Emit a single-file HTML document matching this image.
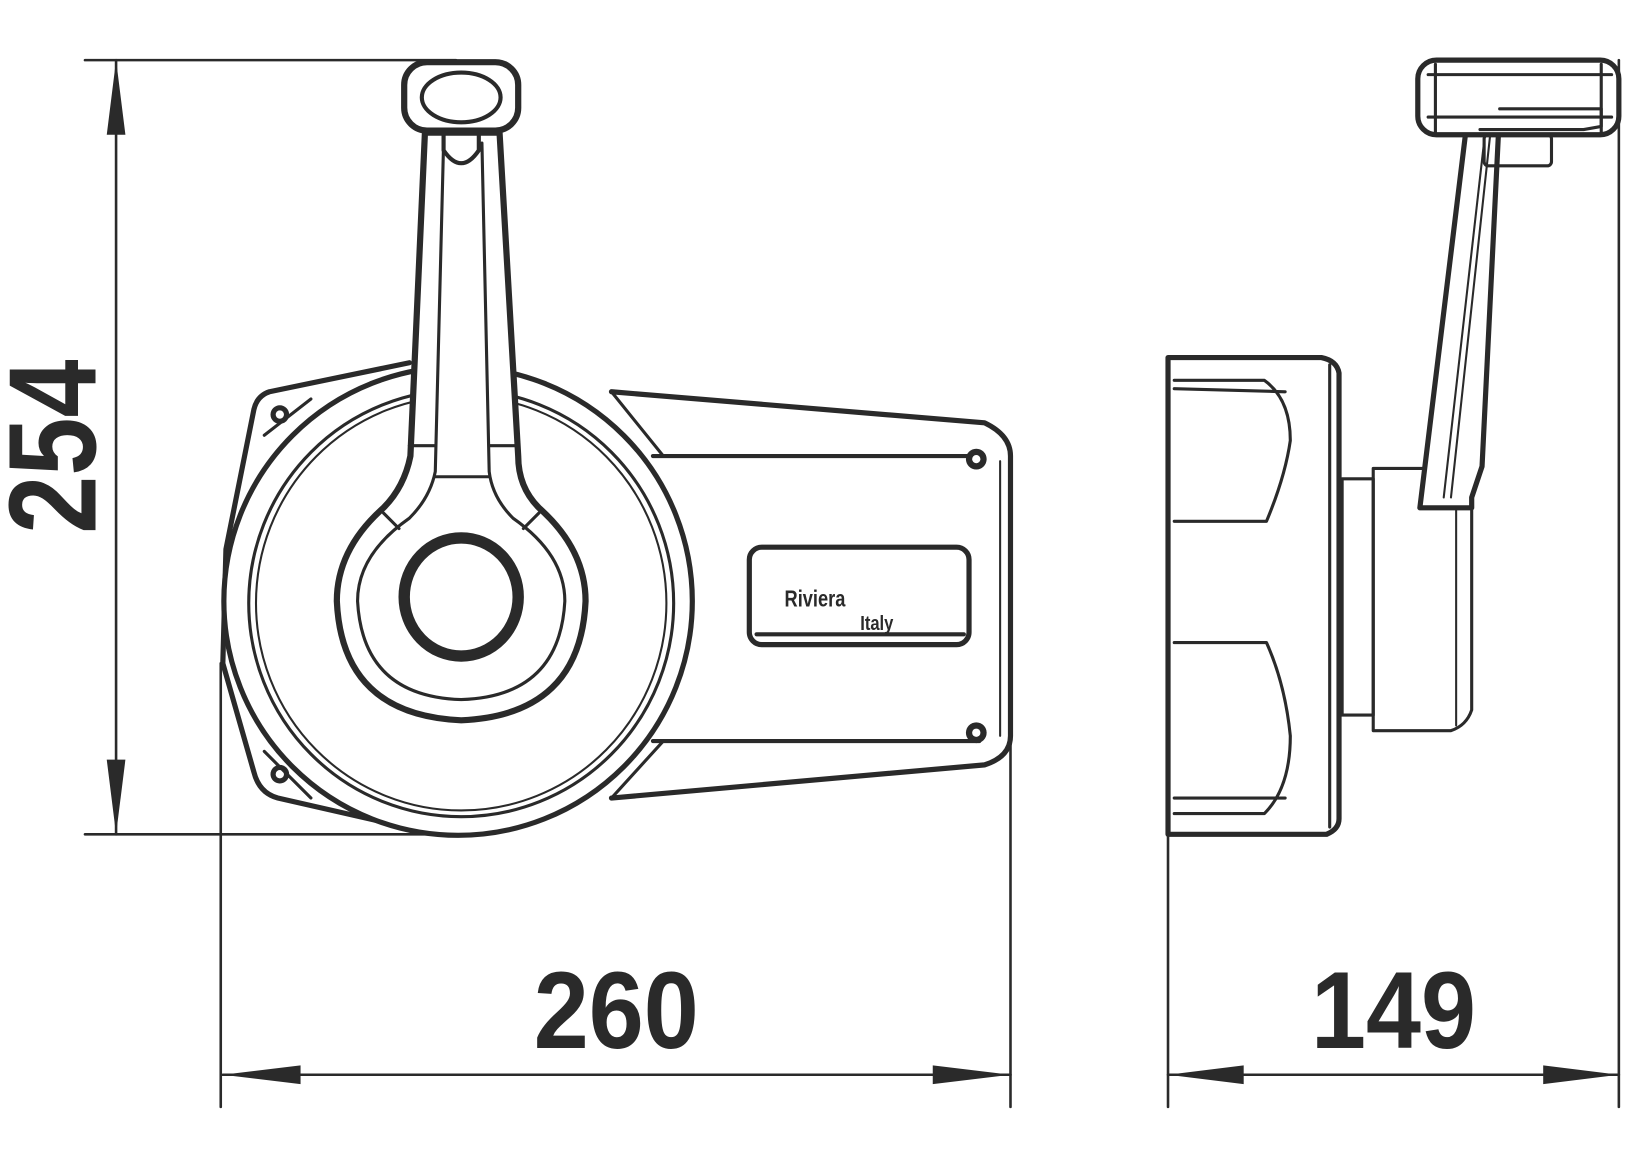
<!DOCTYPE html>
<html><head><meta charset="utf-8"><style>
html,body{margin:0;padding:0;background:#fff;}
svg{display:block;}
text{font-family:"Liberation Sans",sans-serif;font-weight:bold;fill:#2a2a2a;}
</style></head><body>
<svg width="1625" height="1170" viewBox="0 0 1625 1170" xmlns="http://www.w3.org/2000/svg">
<g transform="scale(1.0364)">
<g stroke="#2a2a2a" fill="none" stroke-linecap="round" stroke-linejoin="round">
<g stroke-width="2.5">
<line x1="82" y1="58" x2="440" y2="58"/>
<line x1="82" y1="805" x2="420" y2="805"/>
<line x1="112" y1="58" x2="112" y2="805"/>
<line x1="213" y1="640" x2="213" y2="1068"/>
<line x1="975" y1="450" x2="975" y2="1068"/>
<line x1="215" y1="1037" x2="975" y2="1037"/>
<line x1="1127" y1="805" x2="1127" y2="1068"/>
<line x1="1562" y1="58" x2="1562" y2="1068"/>
<line x1="1127" y1="1037" x2="1562" y2="1037"/>
</g>
<g fill="#2a2a2a" stroke="none">
<polygon points="112,58 103,130 121,130"/>
<polygon points="112,805 103,733 121,733"/>
<polygon points="215,1037 290,1028 290,1046"/>
<polygon points="975,1037 900,1028 900,1046"/>
<polygon points="1127,1037 1200,1028 1200,1046"/>
<polygon points="1562,1037 1489,1028 1489,1046"/>
</g>

<g stroke-width="5">
<path d="M395,350 L260,378 Q248,382 245,395 L218,530 L215,640 L245,745 Q250,765 268,770 L400,800"/>
<path d="M590,378 L950,408 Q975,420 975,440 L975,710 Q975,730 950,738 L590,770"/>
<line x1="630" y1="440" x2="945" y2="440" stroke-width="4"/>
<line x1="630" y1="715" x2="945" y2="715" stroke-width="4"/>
<line x1="965" y1="445" x2="965" y2="710" stroke-width="2"/>
<ellipse cx="442" cy="580" rx="226" ry="226" fill="#fff"/>
<ellipse cx="445" cy="582" rx="205" ry="206" stroke-width="3"/>
<ellipse cx="445" cy="582" rx="198" ry="200" stroke-width="2"/>
</g>
<g fill="#2a2a2a" stroke="none">
<circle cx="270" cy="400" r="9"/><circle cx="270" cy="747" r="9"/>
<circle cx="942" cy="443" r="10"/><circle cx="942" cy="707" r="10"/>
</g>
<g fill="#fff" stroke="none">
<circle cx="270" cy="400" r="4"/><circle cx="270" cy="747" r="4"/>
<circle cx="942" cy="443" r="4"/><circle cx="942" cy="707" r="4"/>
</g>
<g stroke-width="3">
<line x1="255" y1="420" x2="300" y2="385"/>
<line x1="255" y1="725" x2="300" y2="770"/>
<line x1="590" y1="378" x2="640" y2="440"/>
<line x1="590" y1="770" x2="640" y2="715"/>
</g>
<rect x="723" y="528" width="212" height="94" rx="12" stroke-width="5"/>
<line x1="730" y1="612" x2="930" y2="612" stroke-width="4"/>
<text x="757" y="585" font-size="22" stroke="none" transform="translate(757,0) scale(0.8,1) translate(-757,0)">Riviera</text>
<text x="830" y="608" font-size="20" stroke="none" transform="translate(830,0) scale(0.8,1) translate(-830,0)">Italy</text>

<g stroke-width="6" fill="#fff">
<path d="M410,128 L396,440 Q390,470 370,490 Q325,530 325,580 Q330,690 445,695 Q560,690 565,580 Q565,530 520,490 Q500,470 500,440 L482,128 Z"/>
</g>
<g stroke-width="3">
<path d="M428,138 L420,455 Q415,480 395,500 Q345,535 345,580 Q350,672 445,675 Q540,672 545,580 Q545,535 495,500 Q475,480 472,455 L465,138"/>
<line x1="420" y1="460" x2="472" y2="460"/>
<line x1="395" y1="430" x2="420" y2="430"/>
<line x1="472" y1="430" x2="500" y2="430"/>
<line x1="370" y1="495" x2="385" y2="510"/>
<line x1="520" y1="495" x2="505" y2="510"/>
</g>
<ellipse cx="445" cy="576" rx="55" ry="57" stroke-width="11" fill="#fff"/>
<rect x="390" y="60" width="110" height="66" rx="22" stroke-width="6" fill="#fff"/>
<ellipse cx="445" cy="94" rx="38" ry="24" stroke-width="4"/>
<path d="M428,126 L428,145 Q445,170 462,145 L462,126" stroke-width="4"/>

<g stroke-width="5">
<path d="M1127,345 L1127,805 L1280,805 Q1292,800 1292,790 L1292,360 Q1290,348 1275,345 Z"/>
<line x1="1283" y1="352" x2="1283" y2="798" stroke-width="3"/>
<path d="M1133,367 L1220,367 Q1245,385 1245,425 Q1240,460 1222,503 L1133,503" stroke-width="3"/>
<line x1="1133" y1="375" x2="1240" y2="378" stroke-width="3"/>
<path d="M1133,620 L1222,620 Q1240,660 1245,710 Q1245,760 1220,785 L1133,785" stroke-width="3"/>
<line x1="1133" y1="770" x2="1240" y2="770" stroke-width="3"/>
<rect x="1295" y="462" width="30" height="228" stroke-width="3"/>
<path d="M1325,452 L1420,452 L1420,685 Q1415,700 1400,705 L1325,705 Z" stroke-width="3"/>
<line x1="1405" y1="460" x2="1405" y2="700" stroke-width="2"/>
<path d="M1370,490 L1417,105 L1447,105 L1430,450 L1420,480 L1420,490 Z" stroke-width="5" fill="#fff"/>
<line x1="1393" y1="480" x2="1435" y2="110" stroke-width="2"/>
<line x1="1400" y1="480" x2="1440" y2="110" stroke-width="2"/>
<rect x="1368" y="58" width="194" height="72" rx="18" stroke-width="5" fill="#fff"/>
<line x1="1378" y1="72" x2="1555" y2="72" stroke-width="3"/>
<line x1="1378" y1="113" x2="1555" y2="113" stroke-width="3"/>
<line x1="1385" y1="62" x2="1385" y2="128" stroke-width="3"/>
<line x1="1545" y1="62" x2="1545" y2="128" stroke-width="3"/>
<path d="M1447,105 L1545,105 L1545,122 L1528,125 L1428,125" stroke-width="3"/>
<rect x="1432" y="130" width="65" height="30" rx="4" stroke-width="3"/>
</g>
</g>

<text transform="translate(92,515) rotate(-90) scale(0.84,1)" font-size="120">254</text>
<text transform="translate(515,1011) scale(0.9,1)" font-size="106">260</text>
<text transform="translate(1265,1011) scale(0.9,1)" font-size="106">149</text>
</g>
</svg>
</body></html>
